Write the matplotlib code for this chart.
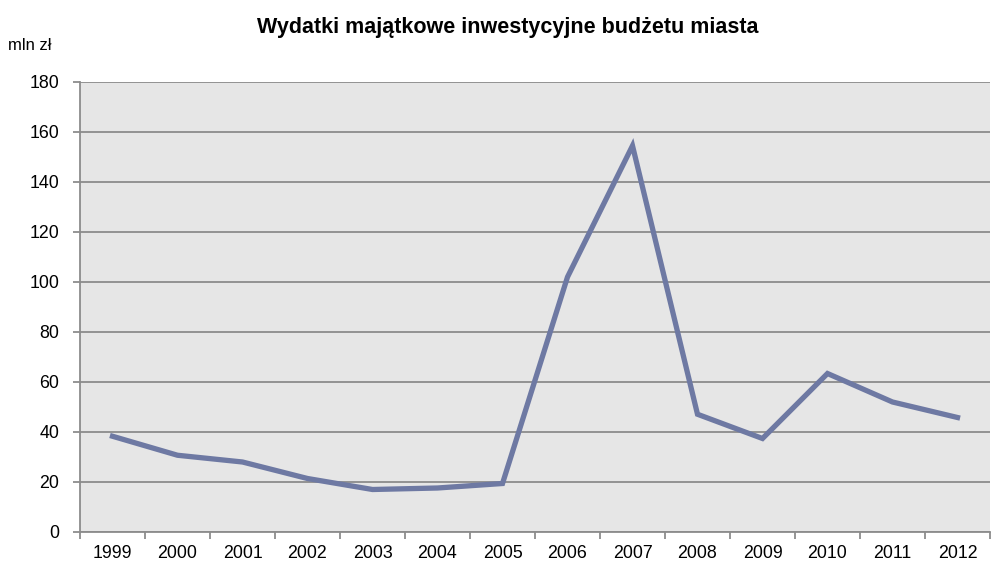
import matplotlib
matplotlib.use("Agg")
import matplotlib.pyplot as plt

years = ["1999", "2000", "2001", "2002", "2003", "2004", "2005",
         "2006", "2007", "2008", "2009", "2010", "2011", "2012"]
values = [38.3, 30.7, 28.0, 21.4, 17.0, 17.6, 19.4,
          102.0, 154.5, 47.1, 37.4, 63.4, 52.0, 45.8]
yticks = [0, 20, 40, 60, 80, 100, 120, 140, 160, 180]

plt.rcParams['font.family'] = ['Liberation Sans', 'DejaVu Sans']

fig = plt.figure(figsize=(9.92, 5.68), dpi=100)
ax = fig.add_axes([80/992, 36/568, 910/992, 450/568])
ax.set_facecolor('#E6E6E6')

x = list(range(len(years)))
ax.plot(x, values, color='#6E79A3', linewidth=3.8, solid_joinstyle='miter', zorder=3)

ax.set_xlim(-0.5, len(years) - 0.5)
ax.set_ylim(0, 180)
ax.set_yticks(yticks)
ax.set_yticklabels([str(v) for v in yticks])
ax.set_xticks(x)
ax.set_xticklabels(years)
ax.set_xticks([i - 0.5 for i in range(len(years) + 1)], minor=True)

ax.grid(axis='y', color='#8C8C8C', linewidth=1.3, zorder=1)
ax.set_axisbelow(True)

for s in ['top', 'right']:
    ax.spines[s].set_visible(False)
for s in ['left', 'bottom']:
    ax.spines[s].set_color('#8C8C8C')
    ax.spines[s].set_linewidth(1.3)

ax.tick_params(axis='x', which='major', length=0, pad=9, labelsize=12.8)
ax.tick_params(axis='x', which='minor', length=5, color='#8C8C8C', width=1.3)
ax.tick_params(axis='y', which='major', length=5, color='#8C8C8C', width=1.3, pad=10, labelsize=12.8)

fig.text(508/992, 1 - 27/568, 'Wydatki majątkowe inwestycyjne budżetu miasta',
         ha='center', va='center', fontsize=15.5, fontweight='bold')
fig.text(8/992, 1 - 45/568, 'mln zł', ha='left', va='center', fontsize=12)

fig.savefig('out.png', dpi=100, facecolor='white')
